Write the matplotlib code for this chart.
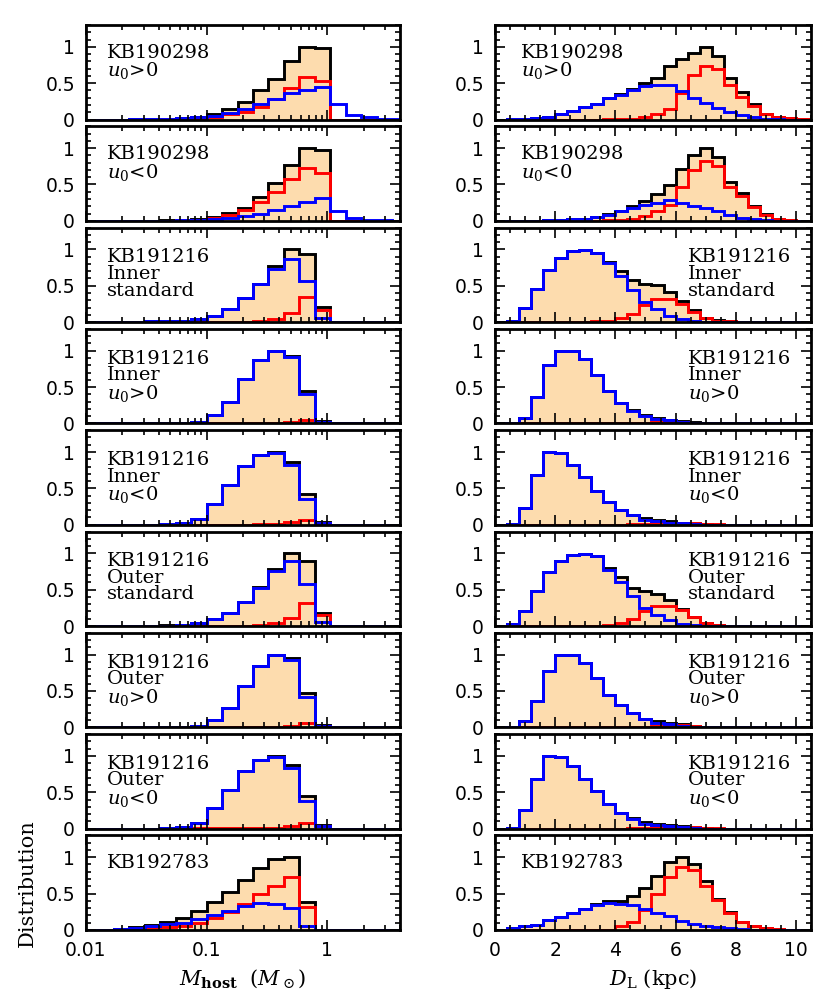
import numpy as np
import matplotlib
matplotlib.use('Agg')
import matplotlib.pyplot as plt
from matplotlib.ticker import FixedLocator, LogLocator, MultipleLocator, NullFormatter, FuncFormatter

plt.rcParams['font.family'] = ['DejaVu Serif']
plt.rcParams['mathtext.fontset'] = 'dejavuserif'

# bin edges: log10(M) in 0.128 dex steps, D_L in 0.4 kpc steps
mass_log_edges = -1.0 + 0.128 * np.arange(-8, 14)
dist_edges = 0.4 * np.arange(0, 27)

# ---- host mass histograms (21 bins) ----
m1_tot = [0, 0, 0, 0.003, 0.005, 0.01, 0.02, 0.04, 0.07, 0.15, 0.24, 0.40, 0.56, 0.80, 1.0, 0.98, 0, 0, 0, 0, 0]
m1_red = [0, 0, 0, 0, 0, 0.003, 0.005, 0.01, 0.03, 0.07, 0.11, 0.17, 0.28, 0.43, 0.59, 0.53, 0, 0, 0, 0, 0]
m1_blue = [0, 0, 0, 0.002, 0.005, 0.01, 0.02, 0.03, 0.05, 0.09, 0.15, 0.21, 0.28, 0.37, 0.41, 0.45, 0.21, 0.06, 0.03, 0.01, 0.005]

m2_tot = [0, 0, 0, 0, 0.003, 0.005, 0.01, 0.02, 0.05, 0.11, 0.18, 0.33, 0.52, 0.77, 1.0, 0.98, 0, 0, 0, 0, 0]
m2_red = [0, 0, 0, 0, 0, 0.003, 0.005, 0.01, 0.04, 0.08, 0.15, 0.26, 0.40, 0.57, 0.73, 0.66, 0, 0, 0, 0, 0]
m2_blue = [0, 0, 0, 0, 0, 0.002, 0.005, 0.01, 0.02, 0.04, 0.07, 0.10, 0.15, 0.20, 0.26, 0.32, 0.14, 0.04, 0.01, 0.005, 0]

m3_tot = [0, 0, 0, 0, 0.01, 0.01, 0.02, 0.04, 0.09, 0.18, 0.33, 0.52, 0.77, 1.0, 0.94, 0.21, 0, 0, 0, 0, 0]
m3_red = [0, 0, 0, 0, 0, 0, 0, 0, 0, 0, 0.005, 0.01, 0.04, 0.12, 0.35, 0.17, 0, 0, 0, 0, 0]
m3_blue = [0, 0, 0, 0, 0.01, 0.01, 0.02, 0.04, 0.09, 0.18, 0.33, 0.52, 0.73, 0.87, 0.57, 0.05, 0, 0, 0, 0, 0]

m4_tot = [0, 0, 0, 0, 0, 0, 0.003, 0.02, 0.12, 0.30, 0.61, 0.87, 1.0, 0.93, 0.44, 0.03, 0, 0, 0, 0, 0]
m4_red = [0, 0, 0, 0, 0, 0, 0, 0, 0, 0, 0, 0.003, 0.01, 0.02, 0.05, 0.01, 0, 0, 0, 0, 0]
m4_blue = [0, 0, 0, 0, 0, 0, 0.003, 0.02, 0.12, 0.30, 0.61, 0.87, 1.0, 0.91, 0.40, 0.02, 0, 0, 0, 0, 0]

m5_tot = [0, 0, 0, 0, 0, 0.005, 0.02, 0.08, 0.28, 0.54, 0.81, 0.96, 1.0, 0.86, 0.42, 0.04, 0, 0, 0, 0, 0]
m5_red = [0, 0, 0, 0, 0, 0, 0, 0, 0, 0, 0, 0.003, 0.01, 0.04, 0.07, 0.02, 0, 0, 0, 0, 0]
m5_blue = [0, 0, 0, 0, 0, 0.005, 0.02, 0.08, 0.28, 0.54, 0.81, 0.96, 0.99, 0.82, 0.35, 0.02, 0, 0, 0, 0, 0]

m6_tot = [0, 0, 0, 0, 0, 0.01, 0.02, 0.04, 0.09, 0.18, 0.33, 0.53, 0.78, 1.0, 0.90, 0.18, 0, 0, 0, 0, 0]
m6_red = [0, 0, 0, 0, 0, 0, 0, 0, 0, 0, 0.003, 0.01, 0.04, 0.11, 0.31, 0.15, 0, 0, 0, 0, 0]
m6_blue = [0, 0, 0, 0, 0, 0.005, 0.02, 0.04, 0.09, 0.18, 0.33, 0.52, 0.76, 0.89, 0.58, 0.05, 0, 0, 0, 0, 0]

m7_tot = [0, 0, 0, 0, 0, 0, 0.005, 0.02, 0.10, 0.27, 0.57, 0.85, 1.0, 0.95, 0.47, 0.03, 0, 0, 0, 0, 0]
m7_red = [0, 0, 0, 0, 0, 0, 0, 0, 0, 0, 0, 0.003, 0.01, 0.02, 0.06, 0.02, 0, 0, 0, 0, 0]
m7_blue = [0, 0, 0, 0, 0, 0, 0.005, 0.02, 0.10, 0.27, 0.57, 0.85, 1.0, 0.93, 0.41, 0.02, 0, 0, 0, 0, 0]

m8_tot = [0, 0, 0, 0, 0, 0.005, 0.02, 0.08, 0.28, 0.53, 0.79, 0.95, 1.0, 0.88, 0.45, 0.05, 0, 0, 0, 0, 0]
m8_red = [0, 0, 0, 0, 0, 0, 0.003, 0.003, 0.003, 0.003, 0.005, 0.005, 0.01, 0.03, 0.08, 0.04, 0, 0, 0, 0, 0]
m8_blue = [0, 0, 0, 0, 0, 0.005, 0.02, 0.08, 0.28, 0.53, 0.79, 0.95, 0.99, 0.84, 0.38, 0.03, 0, 0, 0, 0, 0]

m9_tot = [0, 0.005, 0.01, 0.04, 0.07, 0.11, 0.16, 0.26, 0.38, 0.52, 0.69, 0.85, 0.97, 1.0, 0.38, 0, 0, 0, 0, 0, 0]
m9_red = [0, 0, 0, 0.005, 0.02, 0.04, 0.06, 0.10, 0.16, 0.25, 0.36, 0.50, 0.61, 0.73, 0.32, 0, 0, 0, 0, 0, 0]
m9_blue = [0, 0.005, 0.01, 0.03, 0.05, 0.08, 0.10, 0.15, 0.21, 0.26, 0.33, 0.37, 0.36, 0.30, 0.05, 0, 0, 0, 0, 0, 0]

# ---- lens distance histograms (26 bins) ----
d1_tot = [0, 0.005, 0.01, 0.02, 0.04, 0.07, 0.12, 0.17, 0.22, 0.29, 0.35, 0.42, 0.50, 0.57, 0.73, 0.83, 0.92, 1.0, 0.87, 0.57, 0.38, 0.21, 0.08, 0.04, 0.02, 0.005]
d1_red = [0, 0, 0, 0, 0, 0, 0, 0, 0, 0.005, 0.01, 0.01, 0.03, 0.07, 0.14, 0.37, 0.61, 0.74, 0.70, 0.47, 0.31, 0.18, 0.07, 0.04, 0.02, 0.005]
d1_blue = [0, 0.005, 0.01, 0.02, 0.04, 0.07, 0.12, 0.17, 0.22, 0.29, 0.34, 0.41, 0.46, 0.47, 0.48, 0.39, 0.30, 0.23, 0.16, 0.10, 0.06, 0.03, 0.01, 0.005, 0, 0]

d2_tot = [0, 0, 0, 0, 0.005, 0.01, 0.02, 0.03, 0.05, 0.09, 0.14, 0.21, 0.27, 0.37, 0.49, 0.71, 0.90, 1.0, 0.88, 0.53, 0.38, 0.21, 0.09, 0.03, 0.01, 0]
d2_red = [0, 0, 0, 0, 0, 0, 0, 0, 0, 0.005, 0.01, 0.03, 0.06, 0.14, 0.22, 0.46, 0.70, 0.82, 0.75, 0.47, 0.34, 0.19, 0.08, 0.03, 0.01, 0]
d2_blue = [0, 0, 0, 0, 0.005, 0.01, 0.02, 0.03, 0.05, 0.08, 0.13, 0.17, 0.22, 0.24, 0.28, 0.25, 0.20, 0.18, 0.13, 0.08, 0.04, 0.02, 0.01, 0, 0, 0]

d3_tot = [0.005, 0.02, 0.19, 0.45, 0.72, 0.88, 0.98, 0.99, 0.95, 0.82, 0.70, 0.58, 0.53, 0.51, 0.42, 0.29, 0.16, 0.06, 0.03, 0.01, 0, 0, 0, 0, 0, 0]
d3_red = [0, 0, 0, 0, 0, 0, 0, 0.005, 0.01, 0.02, 0.05, 0.11, 0.24, 0.32, 0.32, 0.25, 0.14, 0.06, 0.02, 0.01, 0, 0, 0, 0, 0, 0]
d3_blue = [0.005, 0.02, 0.19, 0.45, 0.72, 0.88, 0.98, 0.99, 0.95, 0.81, 0.64, 0.44, 0.28, 0.18, 0.08, 0.04, 0.01, 0.005, 0, 0, 0, 0, 0, 0, 0, 0]

d4_tot = [0, 0.005, 0.08, 0.37, 0.81, 1.0, 1.0, 0.88, 0.66, 0.44, 0.28, 0.18, 0.11, 0.08, 0.05, 0.03, 0.02, 0.01, 0.005, 0, 0, 0, 0, 0, 0, 0]
d4_red = [0, 0, 0, 0, 0, 0, 0, 0, 0, 0, 0.005, 0.01, 0.01, 0.02, 0.02, 0.02, 0.01, 0.01, 0.005, 0, 0, 0, 0, 0, 0, 0]
d4_blue = [0, 0.005, 0.08, 0.37, 0.81, 1.0, 1.0, 0.88, 0.66, 0.44, 0.28, 0.17, 0.10, 0.06, 0.04, 0.02, 0.01, 0.005, 0, 0, 0, 0, 0, 0, 0, 0]

d5_tot = [0, 0.005, 0.23, 0.68, 1.0, 0.99, 0.82, 0.65, 0.47, 0.31, 0.20, 0.14, 0.09, 0.07, 0.05, 0.03, 0.02, 0.01, 0, 0, 0, 0, 0, 0, 0, 0]
d5_red = [0, 0, 0, 0, 0, 0, 0, 0, 0, 0, 0, 0.005, 0.01, 0.02, 0.02, 0.02, 0.02, 0.01, 0.005, 0, 0, 0, 0, 0, 0, 0]
d5_blue = [0, 0.005, 0.23, 0.68, 1.0, 0.99, 0.82, 0.65, 0.47, 0.31, 0.20, 0.13, 0.07, 0.05, 0.03, 0.02, 0.01, 0, 0, 0, 0, 0, 0, 0, 0, 0]

d6_tot = [0.005, 0.03, 0.20, 0.48, 0.74, 0.89, 0.97, 0.99, 0.96, 0.80, 0.67, 0.52, 0.48, 0.44, 0.36, 0.24, 0.12, 0.04, 0.01, 0, 0, 0, 0, 0, 0, 0]
d6_red = [0, 0, 0, 0, 0, 0, 0, 0, 0.005, 0.01, 0.04, 0.10, 0.20, 0.27, 0.27, 0.22, 0.12, 0.04, 0.01, 0, 0, 0, 0, 0, 0, 0]
d6_blue = [0.005, 0.03, 0.20, 0.48, 0.74, 0.89, 0.97, 0.99, 0.96, 0.77, 0.60, 0.41, 0.25, 0.15, 0.08, 0.03, 0.01, 0, 0, 0, 0, 0, 0, 0, 0, 0]

d7_tot = [0, 0.005, 0.08, 0.36, 0.78, 0.99, 1.0, 0.88, 0.68, 0.45, 0.31, 0.19, 0.12, 0.08, 0.06, 0.04, 0.02, 0.01, 0, 0, 0, 0, 0, 0, 0, 0]
d7_red = [0, 0, 0, 0, 0, 0, 0, 0, 0, 0, 0, 0.005, 0.01, 0.02, 0.03, 0.03, 0.02, 0.01, 0, 0, 0, 0, 0, 0, 0, 0]
d7_blue = [0, 0.005, 0.08, 0.36, 0.78, 0.99, 1.0, 0.88, 0.68, 0.45, 0.31, 0.19, 0.11, 0.06, 0.04, 0.02, 0.01, 0, 0, 0, 0, 0, 0, 0, 0, 0]

d8_tot = [0, 0.01, 0.25, 0.68, 1.0, 0.99, 0.86, 0.68, 0.52, 0.34, 0.22, 0.14, 0.09, 0.07, 0.05, 0.04, 0.02, 0.01, 0, 0, 0, 0, 0, 0, 0, 0]
d8_red = [0, 0, 0, 0, 0, 0, 0, 0, 0, 0, 0, 0.005, 0.01, 0.02, 0.02, 0.02, 0.02, 0.01, 0.005, 0, 0, 0, 0, 0, 0, 0]
d8_blue = [0, 0.01, 0.25, 0.68, 1.0, 0.99, 0.86, 0.68, 0.52, 0.34, 0.22, 0.13, 0.07, 0.05, 0.03, 0.02, 0.01, 0, 0, 0, 0, 0, 0, 0, 0, 0]

d9_tot = [0.005, 0.03, 0.05, 0.07, 0.13, 0.18, 0.23, 0.29, 0.35, 0.40, 0.40, 0.47, 0.57, 0.74, 0.93, 1.0, 0.91, 0.67, 0.42, 0.25, 0.11, 0.05, 0.02, 0.01, 0, 0]
d9_red = [0, 0, 0, 0, 0, 0, 0, 0, 0, 0.005, 0.05, 0.11, 0.28, 0.50, 0.73, 0.87, 0.83, 0.60, 0.41, 0.23, 0.11, 0.05, 0.02, 0.01, 0, 0]
d9_blue = [0.005, 0.03, 0.05, 0.07, 0.13, 0.18, 0.23, 0.29, 0.34, 0.37, 0.36, 0.34, 0.29, 0.23, 0.19, 0.12, 0.08, 0.06, 0.04, 0.02, 0.01, 0.005, 0, 0, 0, 0]

labels = ["KB190298\n$u_0$>0", "KB190298\n$u_0$<0",
          "KB191216\nInner\nstandard", "KB191216\nInner\n$u_0$>0", "KB191216\nInner\n$u_0$<0",
          "KB191216\nOuter\nstandard", "KB191216\nOuter\n$u_0$>0", "KB191216\nOuter\n$u_0$<0",
          "KB192783"]

mass_rows = [(m1_tot, m1_red, m1_blue), (m2_tot, m2_red, m2_blue), (m3_tot, m3_red, m3_blue),
             (m4_tot, m4_red, m4_blue), (m5_tot, m5_red, m5_blue), (m6_tot, m6_red, m6_blue),
             (m7_tot, m7_red, m7_blue), (m8_tot, m8_red, m8_blue), (m9_tot, m9_red, m9_blue)]
dist_rows = [(d1_tot, d1_red, d1_blue), (d2_tot, d2_red, d2_blue), (d3_tot, d3_red, d3_blue),
             (d4_tot, d4_red, d4_blue), (d5_tot, d5_red, d5_blue), (d6_tot, d6_red, d6_blue),
             (d7_tot, d7_red, d7_blue), (d8_tot, d8_red, d8_blue), (d9_tot, d9_red, d9_blue)]

FILL = '#fddcae'
W, H = 830, 998


# draw the three step histograms of one panel
def draw_hist(ax, edges, tot, red, blue):
    ax.stairs(tot, edges, fill=True, color=FILL, lw=0)
    ax.stairs(tot, edges, color='k', lw=2.1)
    ax.stairs(red, edges, color='#ff0000', lw=2.1)
    ax.stairs(blue, edges, color='#0000ff', lw=2.1)


def style_axes(ax):
    ax.set_ylim(0, 1.3)
    ax.yaxis.set_major_locator(FixedLocator([0, 0.5, 1]))
    ax.yaxis.set_major_formatter(FuncFormatter(lambda v, p: '%g' % v))
    ax.yaxis.set_minor_locator(MultipleLocator(0.1))
    ax.tick_params(which='both', direction='in', top=True, right=True, width=1.2)
    ax.tick_params(which='major', length=7.5, labelsize=13.5, pad=8)
    ax.tick_params(which='minor', length=3.8)
    for lab in ax.get_yticklabels() + ax.get_xticklabels():
        lab.set_family('DejaVu Sans')
    for s in ax.spines.values():
        s.set_linewidth(2.0)


fig = plt.figure(figsize=(8.3, 9.98), dpi=100)
mass_edges = 10 ** mass_log_edges

for r in range(9):
    top = 25 + r * 101.3
    y0 = 1 - (top + 94.5) / H
    h = 94.5 / H
    nlines = labels[r].count('\n') + 1
    ty = 0.80 if nlines < 3 else 0.78

    axl = fig.add_axes([86 / W, y0, 314 / W, h])
    draw_hist(axl, mass_edges, *mass_rows[r])
    axl.set_xscale('log')
    axl.set_xlim(0.01, 4)
    axl.xaxis.set_major_locator(FixedLocator([0.01, 0.1, 1]))
    axl.xaxis.set_minor_locator(LogLocator(base=10, subs=np.arange(2, 10)))
    axl.xaxis.set_minor_formatter(NullFormatter())
    axl.xaxis.set_major_formatter(FuncFormatter(lambda v, p: '%g' % v))
    style_axes(axl)
    axl.text(0.067, ty, labels[r], transform=axl.transAxes, ha='left', va='top',
             fontsize=14, linespacing=0.9)

    axr = fig.add_axes([495 / W, y0, 316 / W, h])
    draw_hist(axr, dist_edges, *dist_rows[r])
    axr.set_xlim(0, 10.5)
    axr.xaxis.set_major_locator(MultipleLocator(2))
    axr.xaxis.set_minor_locator(MultipleLocator(0.5))
    axr.xaxis.set_major_formatter(FuncFormatter(lambda v, p: '%g' % v))
    style_axes(axr)
    tx = 0.082 if r in (0, 1, 8) else 0.611
    axr.text(tx, ty, labels[r], transform=axr.transAxes, ha='left', va='top',
             fontsize=14, linespacing=0.9)

    if r < 8:
        axl.tick_params(labelbottom=False)
        axr.tick_params(labelbottom=False)
    else:
        axl.set_xlabel(r'$M_{\bf host}$  ($M_\odot$)', fontsize=15, labelpad=5)
        axr.set_xlabel(r'$D_{\rm L}$ (kpc)', fontsize=15, labelpad=5)
        axl.set_ylabel('Distribution', fontsize=15, labelpad=6)

fig.savefig('out.png', dpi=100)
